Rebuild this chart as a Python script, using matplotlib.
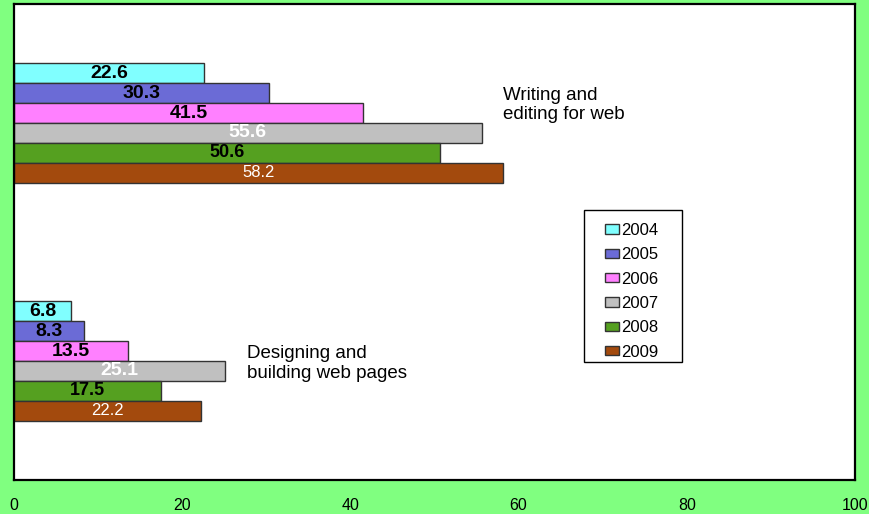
import matplotlib.pyplot as plt
from matplotlib.patches import Rectangle

plt.rcParams['font.family'] = ['Liberation Sans', 'DejaVu Sans']

years = ['2004', '2005', '2006', '2007', '2008', '2009']
categories = ['Writing and\nediting for web', 'Designing and\nbuilding web pages']
writing = [22.6, 30.3, 41.5, 55.6, 50.6, 58.2]
designing = [6.8, 8.3, 13.5, 25.1, 17.5, 22.2]
colors = ['#80FFFF', '#6B6BD6', '#FF80FF', '#C0C0C0', '#55A020', '#A34A0D']
label_colors = ['black', 'black', 'black', 'white', 'black', 'white']
label_weights = ['bold', 'bold', 'bold', 'bold', 'bold', 'normal']
label_sizes = [14, 14, 14, 14, 13, 12]

fig = plt.figure(figsize=(8.7, 5.14), dpi=100, facecolor='#80FF80')
ax = fig.add_axes([14 / 870, 34 / 514, 841 / 870, 476 / 514])
ax.set_facecolor('white')

h = 0.084
centers = [0.5, 1.5]
groups = [writing, designing]
for i, yr in enumerate(years):
    ys = [c + (i - 2.5) * h for c in centers]
    vals = [g[i] for g in groups]
    ax.barh(ys, vals, height=h, color=colors[i], edgecolor='#333333',
            linewidth=1.0, label=yr)
    for y, v in zip(ys, vals):
        ax.text(v / 2, y, f'{v:.1f}', ha='center', va='center',
                color=label_colors[i], fontweight=label_weights[i],
                fontsize=label_sizes[i])

ax.text(58.1, 0.425, categories[0], ha='left', va='center', fontsize=13.5)
ax.text(27.7, 1.51, categories[1], ha='left', va='center', fontsize=13.5)

ax.set_xlim(0, 100)
ax.set_ylim(2, 0)
ax.set_xticks([0, 20, 40, 60, 80, 100])
ax.set_yticks([])
ax.tick_params(axis='x', length=0, pad=13, labelsize=11.5)
for s in ax.spines.values():
    s.set_linewidth(1.6)
    s.set_color('black')

# legend box drawn separately so its padding can match
ax.add_patch(Rectangle((0.678, 0.248), 0.1165, 0.319, transform=ax.transAxes,
                       facecolor='white', edgecolor='black', linewidth=1.0, zorder=4))
leg = ax.legend(loc='upper left', bbox_to_anchor=(0.703, 0.540), fontsize=12,
                frameon=False, handlelength=0.85, handleheight=0.5,
                handletextpad=0.1, labelspacing=0.56, borderpad=0, borderaxespad=0)
leg.set_zorder(5)

fig.savefig('out.png', dpi=100, facecolor=fig.get_facecolor())
